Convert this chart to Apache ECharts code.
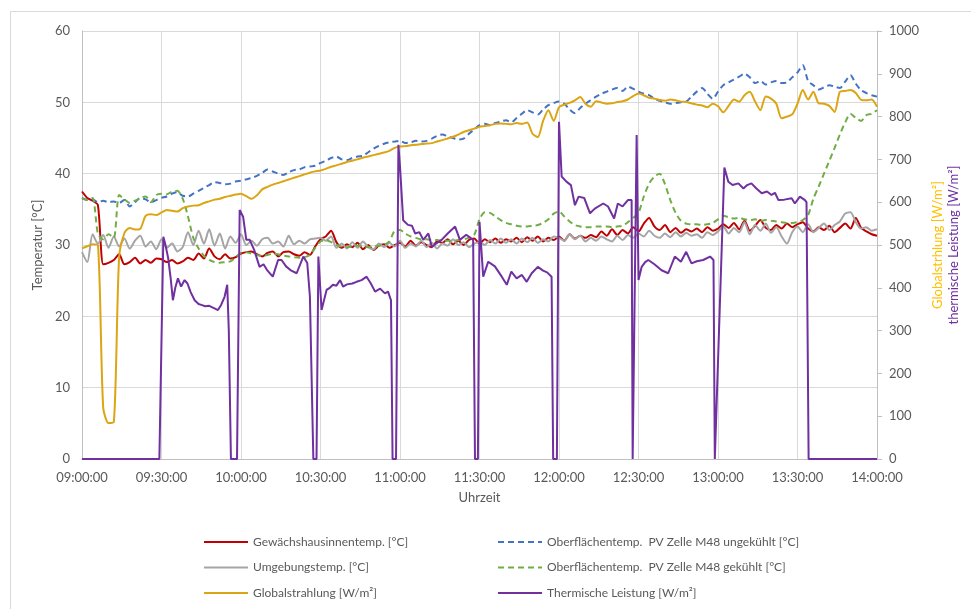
<!DOCTYPE html>
<html>
<head>
<meta charset="utf-8">
<script src="https://cdn.jsdelivr.net/npm/echarts@6/dist/echarts.min.js"></script>
<style>html,body{margin:0;padding:0;background:#fff}#c{width:971px;height:609px}</style>
</head>
<body>
<div id="c"></div>
<script>
// x positions: minutes after 09:00, 2-minute step
const stepMinutes = 2;
const timeLabels = ["09:00:00","09:30:00","10:00:00","10:30:00","11:00:00","11:30:00","12:00:00","12:30:00","13:00:00","13:30:00","14:00:00"];
const seriesNames = ["Gewächshausinnentemp. [°C]","Oberflächentemp.  PV Zelle M48 ungekühlt [°C]","Umgebungstemp. [°C]","Oberflächentemp.  PV Zelle M48 gekühlt [°C]","Globalstrahlung [W/m²]","Thermische Leistung [W/m²]"];

const innenTemp = [37.5,36.6,36.2,35.6,27.3,27.5,27.9,28.7,27.3,27.6,28.2,27.4,27.9,27.5,28.1,28.0,27.6,27.9,27.4,27.7,
28.2,27.9,28.8,28.1,29.5,28.4,28.0,28.7,28.1,28.3,28.8,29.0,29.1,28.7,28.4,28.9,29.1,28.4,29.0,29.1,
28.7,28.5,29.0,28.6,29.8,30.8,31.2,32.0,30.4,29.6,30.1,29.7,30.3,29.4,30.0,29.3,29.9,30.1,29.6,30.0,
30.3,29.8,30.6,29.9,30.4,30.0,29.7,30.5,30.3,30.8,30.1,30.6,30.0,30.7,30.9,30.2,30.8,30.4,30.9,30.3,
30.8,30.5,31.0,30.4,31.1,30.6,31.2,30.5,31.0,30.7,31.2,30.6,31.5,30.9,31.3,31.0,31.4,31.1,31.9,31.3,
32.2,31.4,32.1,31.6,32.5,31.9,33.0,33.8,32.6,32.1,32.8,31.8,32.4,31.7,32.2,31.9,32.3,31.8,32.5,32.0,
32.3,32.9,32.4,33.1,32.2,33.4,32.0,32.7,33.5,32.4,32.1,32.8,32.3,33.0,32.5,32.9,33.2,32.3,31.9,32.5,
32.1,32.7,31.8,32.4,33.0,32.3,33.8,32.4,31.9,31.5,31.3];

const umgebungTemp = [29.0,27.6,31.5,30.2,31.4,29.6,31.2,29.8,30.9,29.5,30.6,31.3,29.8,30.5,29.4,30.8,29.6,30.2,29.1,29.7,
31.8,30.0,32.0,30.2,32.2,29.9,31.6,29.5,31.2,30.3,31.5,30.0,30.6,29.9,30.8,31.0,30.2,30.5,29.8,31.3,
30.1,30.6,30.2,30.8,30.9,31.0,30.6,31.2,29.6,30.2,29.5,30.4,29.6,30.5,29.7,29.4,30.2,29.7,30.3,29.8,
30.6,29.6,30.2,29.8,30.6,29.7,30.3,29.5,30.2,29.9,30.8,30.0,30.4,29.7,30.2,30.4,30.0,30.7,30.2,30.9,
30.3,30.8,30.2,30.9,30.4,31.0,30.3,30.8,30.5,31.2,31.0,30.6,31.5,30.8,31.3,30.5,31.0,30.6,31.2,30.8,
30.5,31.3,30.7,31.4,31.0,31.6,31.2,32.0,31.3,31.0,31.6,31.1,31.8,31.2,31.7,31.3,31.5,31.0,31.8,31.4,
31.9,32.6,31.6,32.4,31.8,33.2,31.5,32.8,32.0,33.0,31.7,32.5,31.2,30.2,31.8,32.6,31.8,32.9,31.8,32.4,
33.0,32.1,32.8,33.3,34.4,34.6,33.2,32.3,32.5,32.0,32.2];

const pvUngekuehlt = [36.6,36.3,36.4,36.0,36.2,36.0,36.1,35.9,36.3,35.4,36.0,36.6,36.4,36.0,36.3,36.6,36.8,37.2,37.4,36.9,
36.8,37.2,37.6,38.0,38.4,38.8,38.7,38.5,38.6,38.9,39.0,39.2,39.4,39.7,40.1,40.6,40.3,40.0,39.8,40.2,
40.5,40.6,40.9,41.0,41.1,41.5,41.8,42.2,42.4,42.0,41.9,42.2,42.4,42.5,43.0,43.5,43.9,44.2,44.4,44.5,
44.6,44.3,44.4,44.6,44.5,44.6,44.9,45.3,45.5,45.2,45.0,44.8,44.9,45.6,46.2,46.8,47.0,46.8,47.1,47.3,
47.5,47.2,47.8,48.4,48.9,48.6,48.3,49.0,49.6,49.9,50.1,49.8,49.0,48.5,49.2,49.8,50.3,50.8,51.2,51.5,
51.8,52.0,51.6,52.2,51.9,51.5,51.2,51.0,50.5,50.2,50.0,49.8,49.9,50.0,50.1,50.8,51.5,52.0,51.2,50.5,
51.5,52.4,52.8,53.2,53.6,54.0,53.5,52.7,53.0,52.5,52.8,53.0,52.7,52.8,53.5,54.2,55.2,53.0,52.4,51.8,
52.1,52.4,52.2,52.0,52.9,53.8,52.6,51.7,51.3,51.0,50.8];

const pvGekuehlt = [36.5,36.3,36.6,31.6,30.8,31.5,31.0,37.0,36.4,35.9,36.2,36.6,36.8,36.0,37.0,37.2,37.1,37.5,37.6,36.5,
34.0,31.0,29.5,28.5,27.9,27.6,27.5,27.6,27.7,28.3,28.9,29.0,28.8,28.6,28.5,28.6,28.8,28.7,28.5,28.4,
28.3,28.2,28.3,28.6,29.6,30.5,30.7,30.4,30.0,29.8,29.7,29.8,29.9,29.8,29.7,29.8,29.9,30.0,30.5,32.0,
32.1,31.6,31.2,31.0,30.8,30.8,30.7,30.7,30.6,30.6,30.6,30.7,30.8,31.0,31.4,33.6,34.6,34.5,34.0,33.5,
33.1,32.9,32.7,32.6,32.6,32.7,32.8,33.1,33.6,34.4,34.7,34.0,33.3,32.8,32.6,32.5,32.5,32.6,32.6,32.6,
32.5,32.6,32.7,33.2,33.8,34.5,36.8,38.6,39.6,40.0,38.5,36.3,34.5,33.4,33.0,32.9,32.9,32.8,32.9,33.1,
33.6,34.1,33.9,33.7,33.8,33.6,33.5,33.6,33.4,33.5,33.4,33.3,33.2,33.1,33.1,33.2,33.5,34.2,36.5,38.2,
40.0,41.8,43.6,45.5,47.2,48.4,47.8,47.4,48.2,48.4,48.9];

const globalstrahlung = [492,497,502,500,120,84,86,470,528,540,536,538,568,572,570,576,582,580,578,586,
590,592,593,598,602,606,608,612,615,618,620,614,608,616,630,636,641,645,649,653,
657,661,665,669,672,674,678,683,686,690,694,697,700,704,707,710,713,716,720,727,
730,731,733,734,736,737,738,742,745,749,753,758,764,768,772,776,778,780,783,784,
783,782,785,783,786,760,752,790,815,790,822,828,832,838,846,830,823,836,833,830,
831,834,836,840,848,854,850,844,842,839,837,840,838,835,834,831,828,826,822,830,
824,810,825,840,835,850,858,835,815,847,842,830,796,800,805,830,862,840,858,831,
830,825,811,858,860,862,855,839,838,840,823];

// Thermische Leistung: [minute, W/m²] (irregular times because of the on/off switching)
const thermTimes = [0,29.2,30.7,31.5,32.5,33.5,34.3,35.2,36.2,37.4,38.7,39.8,41,42.5,44,45,46.5,48,50,51.3,52.5,53.8,54.8,55.4,56.2,58.5,59.5,60.8,62,63.3,65,67,68.5,70,72,74,75.3,77,79,81,83.5,85,86,87.3,88.5,89.2,90.4,92.3,93.5,94.7,96,97.4,98.5,100,102,103.6,105.5,107.4,109,110.6,112.5,114.3,115.5,116.6,117.2,118.5,119.4,120,121.2,123,124.5,125.7,127.3,128.8,130.7,132,134,135.7,138,140.8,142.6,145,147.6,148.3,149.4,150,151.4,153.3,155.8,158.4,160.3,162,164,166,167.8,169.7,172,174,175.5,177.2,177.8,179.2,180,181,182.8,184.5,186,187.4,189.5,191.7,193.5,196.7,198.5,200.8,202.2,204,206,207.4,207.8,208.4,209.3,210,211.2,212.5,213.7,216,218.7,221.2,223.7,226,228,230,232,234.4,237,238.3,238.8,239.4,242.4,243.9,245.5,247.7,249.6,251,252.6,254.5,256.5,258.5,260.2,261.5,262.8,265,267.8,269,270.9,272.8,273.4,274.2,300];
const thermValues = [0,0,519,500,470,420,371,400,422,403,418,410,390,371,362,360,357,358,352,348,360,379,407,300,0,0,582,566,512,512,488,449,455,440,426,465,465,450,440,434,473,458,380,0,0,473,348,395,400,407,405,418,403,408,410,414,418,426,410,391,398,387,391,371,0,0,734,683,558,547,545,527,530,512,527,496,505,512,527,543,512,524,512,0,0,554,426,461,450,426,407,438,422,430,414,434,449,440,436,426,0,0,788,660,648,640,593,613,610,574,585,597,590,562,597,590,605,605,0,0,757,418,449,460,465,455,441,434,473,461,484,457,462,465,473,465,0,0,681,648,640,644,632,640,644,632,621,625,617,622,605,606,609,597,613,605,600,0,0];

const minutes = innenTemp.map((_, i) => i * stepMinutes);
const pairs = arr => arr.map((v, i) => [minutes[i], v]);
const thermPairs = thermTimes.map((t, i) => [t, thermValues[i]]);

const colors = ['#C00000', '#4472C4', '#A5A5A5', '#70AD47', '#DBA514', '#7030A0'];
const font = 'Lato, "Open Sans", sans-serif';

const chart = echarts.init(document.getElementById('c'), null, {renderer: 'canvas'});
const mk = (idx, data, yIdx, dashed, smooth) => ({
  name: seriesNames[idx], type: 'line', data: data, yAxisIndex: yIdx,
  showSymbol: false, symbol: 'circle', smooth: smooth,
  lineStyle: {color: colors[idx], width: 2, type: dashed ? [6, 4] : 'solid'},
  itemStyle: {color: colors[idx]},
  emphasis: {disabled: true}
});
const legendBase = {
  orient: 'vertical', top: 536, itemWidth: 44, itemHeight: 14, itemGap: 13.5, padding: 0,
  itemStyle: {opacity: 0},
  textStyle: {color: '#595959', fontSize: 12, fontFamily: font}
};

chart.setOption({
  animation: false,
  backgroundColor: '#fff',
  textStyle: {fontFamily: font},
  grid: {left: 82, right: 94, top: 31, bottom: 150, containLabel: false},
  graphic: [{
    type: 'polyline', silent: true,
    shape: {points: [[10.5, 609], [10.5, 11.5], [971, 11.5]]},
    style: {stroke: '#d9d9d9', lineWidth: 1, fill: null}
  }],
  legend: [
    Object.assign({}, legendBase, {left: 203, data: [seriesNames[0], seriesNames[2], seriesNames[4]]}),
    Object.assign({}, legendBase, {left: 497, data: [seriesNames[1], seriesNames[3], seriesNames[5]]})
  ],
  xAxis: {
    type: 'value', min: 0, max: 300, interval: 30,
    name: 'Uhrzeit', nameLocation: 'middle', nameGap: 32,
    nameTextStyle: {color: '#595959', fontSize: 13},
    axisLine: {show: true, lineStyle: {color: '#bfbfbf', width: 1}},
    axisTick: {show: false},
    axisLabel: {color: '#595959', fontSize: 13, margin: 12,
      formatter: v => timeLabels[Math.round(v / 30)]},
    splitLine: {show: true, lineStyle: {color: '#d9d9d9', width: 1}}
  },
  yAxis: [{
    type: 'value', min: 0, max: 60, interval: 10, position: 'left',
    name: 'Temperatur [°C]', nameLocation: 'middle', nameGap: 34, nameRotate: 90,
    nameTextStyle: {color: '#595959', fontSize: 13},
    axisLine: {show: true, lineStyle: {color: '#bfbfbf'}},
    axisTick: {show: false},
    axisLabel: {color: '#595959', fontSize: 13, margin: 12},
    splitLine: {show: true, lineStyle: {color: '#d9d9d9', width: 1}}
  }, {
    type: 'value', min: 0, max: 1000, interval: 100, position: 'right',
    name: '{g|Globalstrhlung [W/m²]}\n{p|thermische Leistung [W/m²]}',
    nameLocation: 'middle', nameGap: 52, nameRotate: 90,
    nameTextStyle: {fontSize: 13, lineHeight: 16,
      rich: {g: {color: '#FFC000', fontSize: 13, lineHeight: 16, fontFamily: font},
             p: {color: '#7030A0', fontSize: 13, lineHeight: 16, fontFamily: font}}},
    axisLine: {show: true, lineStyle: {color: '#bfbfbf'}},
    axisTick: {show: true, inside: false, length: 5, lineStyle: {color: '#bfbfbf'}},
    axisLabel: {color: '#595959', fontSize: 13, margin: 12, formatter: v => String(v)},
    splitLine: {show: false}
  }],
  series: [
    mk(0, pairs(innenTemp), 0, false, 0.25),
    mk(1, pairs(pvUngekuehlt), 0, true, 0.25),
    mk(2, pairs(umgebungTemp), 0, false, 0.25),
    mk(3, pairs(pvGekuehlt), 0, true, 0.25),
    mk(4, pairs(globalstrahlung), 1, false, 0.25),
    mk(5, thermPairs, 1, false, false)
  ]
});
</script>
</body>
</html>
